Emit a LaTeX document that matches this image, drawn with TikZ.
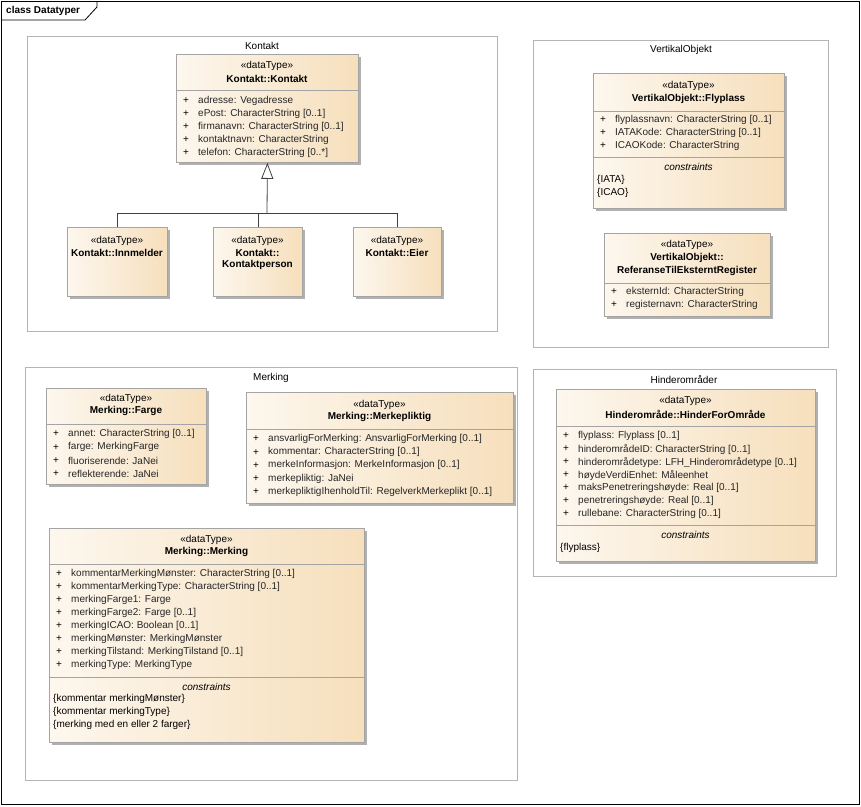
\documentclass[tikz,border=0pt]{standalone}
\usepackage{fontspec}
\setmainfont{Liberation Sans}
\usetikzlibrary{shadows,arrows.meta,positioning}

\definecolor{boxl}{HTML}{FDF7EE}
\definecolor{boxr}{HTML}{F6DFBC}
\definecolor{boxline}{HTML}{A4A4A4}
\definecolor{shadowc}{HTML}{B0B0B0}
\definecolor{pkgline}{HTML}{B4B4B4}

\begin{document}
\begin{tikzpicture}[x=1pt,y=-1pt,
  every node/.style={font=\fontsize{10}{12}\selectfont,inner sep=0pt},
  pkg/.style={draw=pkgline,line width=0.8pt},
  dtbox/.style={draw=boxline,left color=boxl,right color=boxr,anchor=north west,line width=0.8pt,
    drop shadow={shadow xshift=3pt,shadow yshift=-3pt,opacity=1,fill=shadowc}},
  cname/.style={font=\fontsize{10}{12}\selectfont\bfseries},
  attr/.style={anchor=west,text=black!85},
  plus/.style={anchor=west},
  cstr/.style={font=\fontsize{10}{12}\selectfont\itshape},
  sep/.style={draw=boxline,line width=0.8pt},
  gen/.style={draw=black!75,line width=0.8pt}]
\useasboundingbox (0,0) rectangle (861,806);

% frame
\draw[line width=0.8pt] (1,1) rectangle (859,804);
\draw[line width=0.8pt] (1,20) -- (85,20) -- (97,7) -- (97,1);
\node[cname,anchor=west] (title) at (6,11) {class Datatyper};

% packages
\draw[pkg] (27,36) rectangle (497,331);
\node (pkontakt) at (262,46) {Kontakt};
\draw[pkg] (533,40) rectangle (828,347);
\node (pvertikal) at (681,50) {VertikalObjekt};
\draw[pkg] (25,367) rectangle (517,780);
\node (pmerking) at (271,378) {Merking};
\draw[pkg] (533,369) rectangle (836,576);
\node (phinder) at (684,380) {Hinderområder};

% Kontakt
\node[dtbox,minimum width=182pt,minimum height=108pt] (kontakt) at (176,54) {};
\node (kst) at (267,66) {«dataType»};
\node[cname] (kname) at (267,79) {Kontakt::Kontakt};
\draw[sep] (kontakt.west |- 0,90) -- (kontakt.east |- 0,90);
\foreach \txt [count=\i] in {{adresse: Vegadresse},{ePost: CharacterString [0..1]},
    {firmanavn: CharacterString [0..1]},{kontaktnavn: CharacterString},{telefon: CharacterString [0..*]}}{
  \node[plus] (kp\i) at (183,{101+13*(\i-1)}) {+};
  \node[attr] (ka\i) at (198,{101+13*(\i-1)}) {\txt};
}

\node[dtbox,minimum width=100pt,minimum height=69pt] (innmelder) at (67,227) {};
\node (ist) at (117,241) {«dataType»};
\node[cname] (iname) at (117,253) {Kontakt::Innmelder};

\node[dtbox,minimum width=89pt,minimum height=69pt] (kperson) at (213,227) {};
\node (pst) at (257.5,241) {«dataType»};
\node[cname] (pname1) at (257.5,253) {Kontakt::};
\node[cname] (pname2) at (257.5,265) {Kontaktperson};

\node[dtbox,minimum width=88pt,minimum height=69pt] (eier) at (353,227) {};
\node (est) at (397,241) {«dataType»};
\node[cname] (ename) at (397,253) {Kontakt::Eier};

\coordinate (join) at (267,213);
\draw[gen] (innmelder.north) |- (join);
\draw[gen] (eier.north) |- (join);
\draw[gen] (kperson.north) -- (kperson.north |- join);
\draw[gen,-{Triangle[open,length=16pt,width=12pt]}] (join) -- (kontakt.south);

% VertikalObjekt
\node[dtbox,minimum width=191pt,minimum height=135pt] (flyplass) at (593,73) {};
\node (fst) at (688.5,86) {«dataType»};
\node[cname] (fname) at (688.5,99) {VertikalObjekt::Flyplass};
\draw[sep] (flyplass.west |- 0,111) -- (flyplass.east |- 0,111);
\foreach \txt [count=\i] in {{flyplassnavn: CharacterString [0..1]},{IATAKode: CharacterString [0..1]},
    {ICAOKode: CharacterString}}{
  \node[plus] (fp\i) at (600,{120+13*(\i-1)}) {+};
  \node[attr] (fa\i) at (615,{120+13*(\i-1)}) {\txt};
}
\draw[sep] (flyplass.west |- 0,157) -- (flyplass.east |- 0,157);
\node[cstr] (fc) at (688.5,167) {constraints};
\node[anchor=west] (fc1) at (597,180) {\{IATA\}};
\node[anchor=west] (fc2) at (597,193) {\{ICAO\}};

\node[dtbox,minimum width=166pt,minimum height=83pt] (referanse) at (604,233) {};
\node (rst) at (687,245) {«dataType»};
\node[cname] (rname1) at (687,258) {VertikalObjekt::};
\node[cname] (rname2) at (687,271) {ReferanseTilEksterntRegister};
\draw[sep] (referanse.west |- 0,283) -- (referanse.east |- 0,283);
\foreach \txt [count=\i] in {{eksternId: CharacterString},{registernavn: CharacterString}}{
  \node[plus] (rp\i) at (611,{292+13*(\i-1)}) {+};
  \node[attr] (ra\i) at (626,{292+13*(\i-1)}) {\txt};
}

% Merking
\node[dtbox,minimum width=160pt,minimum height=96pt] (farge) at (46,388) {};
\node (gst) at (126,399) {«dataType»};
\node[cname] (gname) at (126,411) {Merking::Farge};
\draw[sep] (farge.west |- 0,424) -- (farge.east |- 0,424);
\foreach \txt [count=\i] in {{annet: CharacterString [0..1]},{farge: MerkingFarge},
    {fluoriserende: JaNei},{reflekterende: JaNei}}{
  \node[plus] (gp\i) at (53,{434+13.3*(\i-1)}) {+};
  \node[attr] (ga\i) at (68,{434+13.3*(\i-1)}) {\txt};
}

\node[dtbox,minimum width=267pt,minimum height=111pt] (merkeplikt) at (246,392) {};
\node (mst) at (379.5,405) {«dataType»};
\node[cname] (mname) at (379.5,417) {Merking::Merkepliktig};
\draw[sep] (merkeplikt.west |- 0,429) -- (merkeplikt.east |- 0,429);
\foreach \txt [count=\i] in {{ansvarligForMerking: AnsvarligForMerking [0..1]},{kommentar: CharacterString [0..1]},
    {merkeInformasjon: MerkeInformasjon [0..1]},{merkepliktig: JaNei},
    {merkepliktigIhenholdTil: RegelverkMerkeplikt [0..1]}}{
  \node[plus] (mp\i) at (253,{439+13.2*(\i-1)}) {+};
  \node[attr] (ma\i) at (268,{439+13.2*(\i-1)}) {\txt};
}

\node[dtbox,minimum width=315pt,minimum height=214pt] (merking) at (49,528) {};
\node (kst2) at (206.5,540) {«dataType»};
\node[cname] (kname2) at (206.5,552) {Merking::Merking};
\draw[sep] (merking.west |- 0,564) -- (merking.east |- 0,564);
\foreach \txt [count=\i] in {{kommentarMerkingMønster: CharacterString [0..1]},
    {kommentarMerkingType: CharacterString [0..1]},{merkingFarge1: Farge},{merkingFarge2: Farge [0..1]},
    {merkingICAO: Boolean [0..1]},{merkingMønster: MerkingMønster},
    {merkingTilstand: MerkingTilstand [0..1]},{merkingType: MerkingType}}{
  \node[plus] (np\i) at (56,{574+13*(\i-1)}) {+};
  \node[attr] (na\i) at (71,{574+13*(\i-1)}) {\txt};
}
\draw[sep] (merking.west |- 0,677) -- (merking.east |- 0,677);
\node[cstr] (nc) at (206.5,687) {constraints};
\node[anchor=west] (nc1) at (53,699) {\{kommentar merkingMønster\}};
\node[anchor=west] (nc2) at (53,712) {\{kommentar merkingType\}};
\node[anchor=west] (nc3) at (53,725) {\{merking med en eller 2 farger\}};

% Hinderomraader
\node[dtbox,minimum width=259pt,minimum height=172pt] (hinder) at (556,389) {};
\node (hst) at (685.5,401) {«dataType»};
\node[cname] (hname) at (685.5,414) {Hinderområde::HinderForOmråde};
\draw[sep] (hinder.west |- 0,426) -- (hinder.east |- 0,426);
\foreach \txt [count=\i] in {{flyplass: Flyplass [0..1]},{hinderområdeID: CharacterString [0..1]},
    {hinderområdetype: LFH\_Hinderområdetype [0..1]},{høydeVerdiEnhet: Måleenhet},
    {maksPenetreringshøyde: Real [0..1]},{penetreringshøyde: Real [0..1]},
    {rullebane: CharacterString [0..1]}}{
  \node[plus] (hp\i) at (563,{436+13*(\i-1)}) {+};
  \node[attr] (ha\i) at (578,{436+13*(\i-1)}) {\txt};
}
\draw[sep] (hinder.west |- 0,525) -- (hinder.east |- 0,525);
\node[cstr] (hc) at (685.5,535) {constraints};
\node[anchor=west] (hc1) at (560,548) {\{flyplass\}};
\end{tikzpicture}
\end{document}
